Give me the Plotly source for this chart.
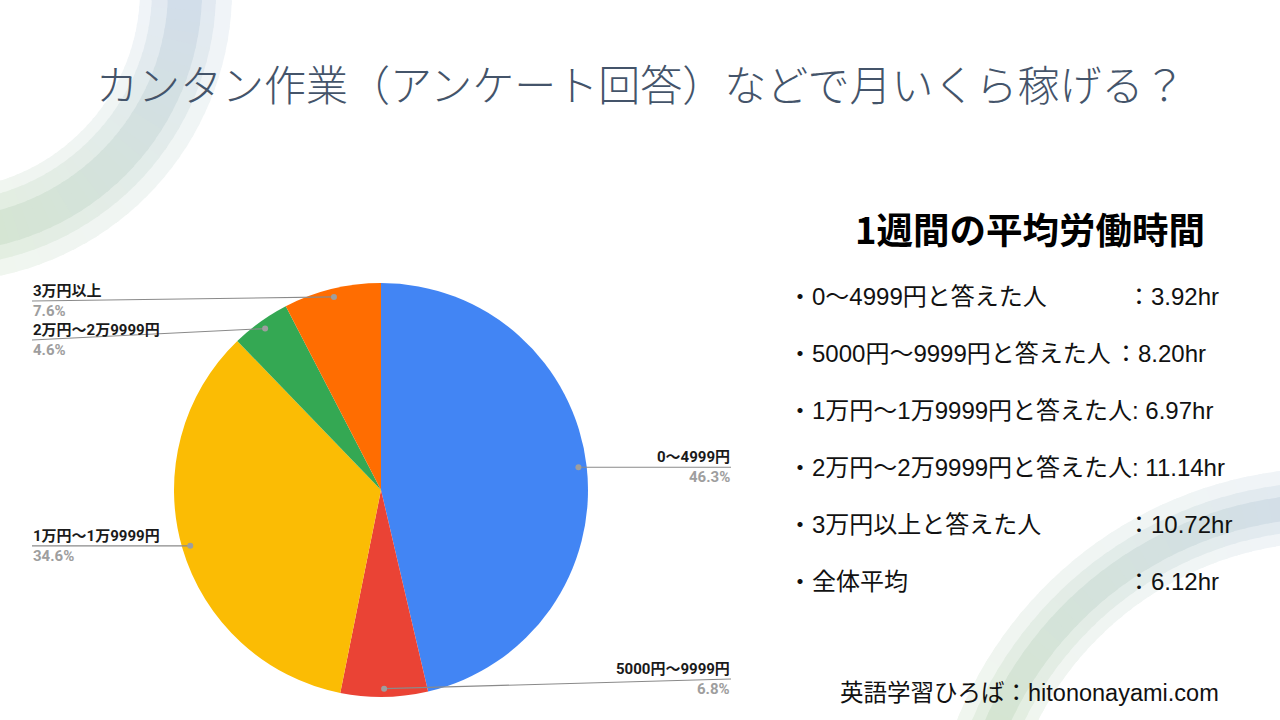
import numpy as np
import plotly.graph_objects as go

# slice data (clockwise from 12 o'clock)
categories = ["0〜4999円", "5000円〜9999円", "1万円〜1万9999円", "2万円〜2万9999円", "3万円以上"]
shares = [46.3, 6.8, 34.6, 4.6, 7.6]
colors = ["#4285F4", "#EA4335", "#FBBC04", "#34A853", "#FF6D01"]

# right-hand panel
panel_labels = ["0〜4999円と答えた人", "5000円〜9999円と答えた人", "1万円〜1万9999円と答えた人",
                "2万円〜2万9999円と答えた人", "3万円以上と答えた人", "全体平均"]
panel_hours = [3.92, 8.20, 6.97, 11.14, 10.72, 6.12]
panel_seps = ["：", "：", ": ", ": ", "：", "："]

W, H = 1280, 720
cx, cy, R = 381, 490, 207
JP = "Noto Sans CJK JP"


def band(ox, oy, r0, r1, a0, a1, n=8):
    t = np.radians(np.linspace(a0, a1, n))
    xs = np.concatenate([ox + r1 * np.cos(t), ox + r0 * np.cos(t[::-1])])
    ys = np.concatenate([oy + r1 * np.sin(t), oy + r0 * np.sin(t[::-1])])
    return "M" + " L".join(f"{x:.1f},{y:.1f}" for x, y in zip(xs, ys)) + " Z"


def mix(c1, c2, f):
    a = [int(c1[i:i + 2], 16) for i in (1, 3, 5)]
    b = [int(c2[i:i + 2], 16) for i in (1, 3, 5)]
    return "#" + "".join(f"{round(p + (q - p) * f):02x}" for p, q in zip(a, b))


shapes = []
# decorative arcs (blue -> green gradient), drawn as small sectors
arcs = [
    ((-60, -10), (-5, 95), [(200, 292, "#F0F4F9", "#F0F6ED"), (212, 276, "#E2E9F3", "#E3EFDD"),
                            (228, 262, "#D2DDEC", "#D6E7CD")]),
    ((1330, 870), (-85, -170), [(328, 402, "#F0F4F9", "#F0F6ED"), (340, 388, "#E2E9F3", "#E3EFDD"),
                                (352, 376, "#D2DDEC", "#D6E7CD")]),
]
for (ox, oy), (a0, a1), bands in arcs:
    for r0, r1, cb, cg in bands:
        steps = 40
        edges = np.linspace(a0, a1, steps + 1)
        for i in range(steps):
            s, e = edges[i], edges[i + 1]
            d = 0.4 if e > s else -0.4
            shapes.append(dict(type="path", xref="x", yref="y", layer="below",
                               path=band(ox, oy, r0, r1, s - d, e + d, 4),
                               fillcolor=mix(cb, cg, i / steps), line=dict(width=0)))

fig = go.Figure()
fig.add_trace(go.Scatter(x=[0, W], y=[0, H], mode="markers", marker=dict(opacity=0),
                         hoverinfo="skip", showlegend=False))
fig.add_trace(go.Pie(labels=categories, values=shares, sort=False, direction="clockwise",
                     rotation=0, textinfo="none", hoverinfo="label+percent",
                     marker=dict(colors=colors, line=dict(width=0)), showlegend=False,
                     domain=dict(x=[(cx - R) / W, (cx + R) / W],
                                 y=[(H - cy - R) / H, (H - cy + R) / H])))

annotations = []
# leader lines and labels from the slice mid-angles
total = sum(shares)
cum = 0
left, right = [], []
for name, v in zip(categories, shares):
    mid = (cum + v / 2) / total * 360
    cum += v
    px = cx + 0.96 * R * np.sin(np.radians(mid))
    py = cy - 0.96 * R * np.cos(np.radians(mid))
    pct = f"{v:.1f}%"
    (right if mid < 180 else left).append([name, pct, px, py, py])

for side in (left, right):
    side.sort(key=lambda s: s[3])
    prev = None
    for s in side:
        ly = min(max(s[3], 301), 679)
        if prev is not None and ly < prev + 39:
            ly = prev + 39
        s[4] = ly
        prev = ly

for side, lx, anchor in ((left, 32, "left"), (right, 731, "right")):
    for name, pct, px, py, ly in side:
        shapes.append(dict(type="line", xref="x", yref="y", layer="above",
                           x0=px, y0=py, x1=lx, y1=ly, line=dict(color="#8A8A8A", width=1.2)))
        shapes.append(dict(type="circle", xref="x", yref="y", layer="above",
                           x0=px - 3, x1=px + 3, y0=py - 3, y1=py + 3,
                           fillcolor="#9E9E9E", line=dict(width=0)))
        annotations.append(dict(x=lx, y=ly, xref="x", yref="y", text=f"<b>{name}</b>",
                                showarrow=False, xanchor=anchor, yanchor="bottom", borderpad=0,
                                font=dict(family="Roboto, " + JP, size=15, color="#1A1A1A")))
        annotations.append(dict(x=lx, y=ly, xref="x", yref="y", text=f"<b>{pct}</b>",
                                showarrow=False, xanchor=anchor, yanchor="top", borderpad=0,
                                font=dict(family="Roboto", size=15, color="#9E9E9E")))

# title
annotations.append(dict(x=640, y=82, xref="x", yref="y", showarrow=False,
                        text="カンタン作業（アンケート回答）などで月いくら稼げる？",
                        font=dict(family=JP, size=42, color="#44546A", weight=300)))
# right panel
annotations.append(dict(x=1030, y=228, xref="x", yref="y", showarrow=False,
                        text="<b>1週間の平均労働時間</b>",
                        font=dict(family=JP, size=36.5, color="#000000")))
value_x = [1125, 1112, 1130, 1130, 1125, 1125]
for i, (lab, hr) in enumerate(zip(panel_labels, panel_hours)):
    y = 296 + i * 57
    annotations.append(dict(x=786, y=y, xref="x", yref="y", showarrow=False, xanchor="left",
                            text="・" + lab, font=dict(family="Arial, " + JP, size=24, color="#111111")))
    annotations.append(dict(x=value_x[i], y=y, xref="x", yref="y", showarrow=False, xanchor="left",
                            text=f"{panel_seps[i]}{hr:.2f}hr",
                            font=dict(family="Arial, " + JP, size=24, color="#111111")))

annotations.append(dict(x=1221, y=693, xref="x", yref="y", showarrow=False, xanchor="right",
                        text="英語学習ひろば：hitononayami.com",
                        font=dict(family="Arial, " + JP, size=23.5, color="#111111")))

fig.update_layout(width=W, height=H, margin=dict(l=0, r=0, t=0, b=0),
                  paper_bgcolor="white", plot_bgcolor="white",
                  xaxis=dict(range=[0, W], visible=False, fixedrange=True),
                  yaxis=dict(range=[H, 0], visible=False, fixedrange=True),
                  shapes=shapes, annotations=annotations, showlegend=False)
fig.write_html("out.html", config={"displayModeBar": False},
               post_script="document.body.style.margin='0px';")
